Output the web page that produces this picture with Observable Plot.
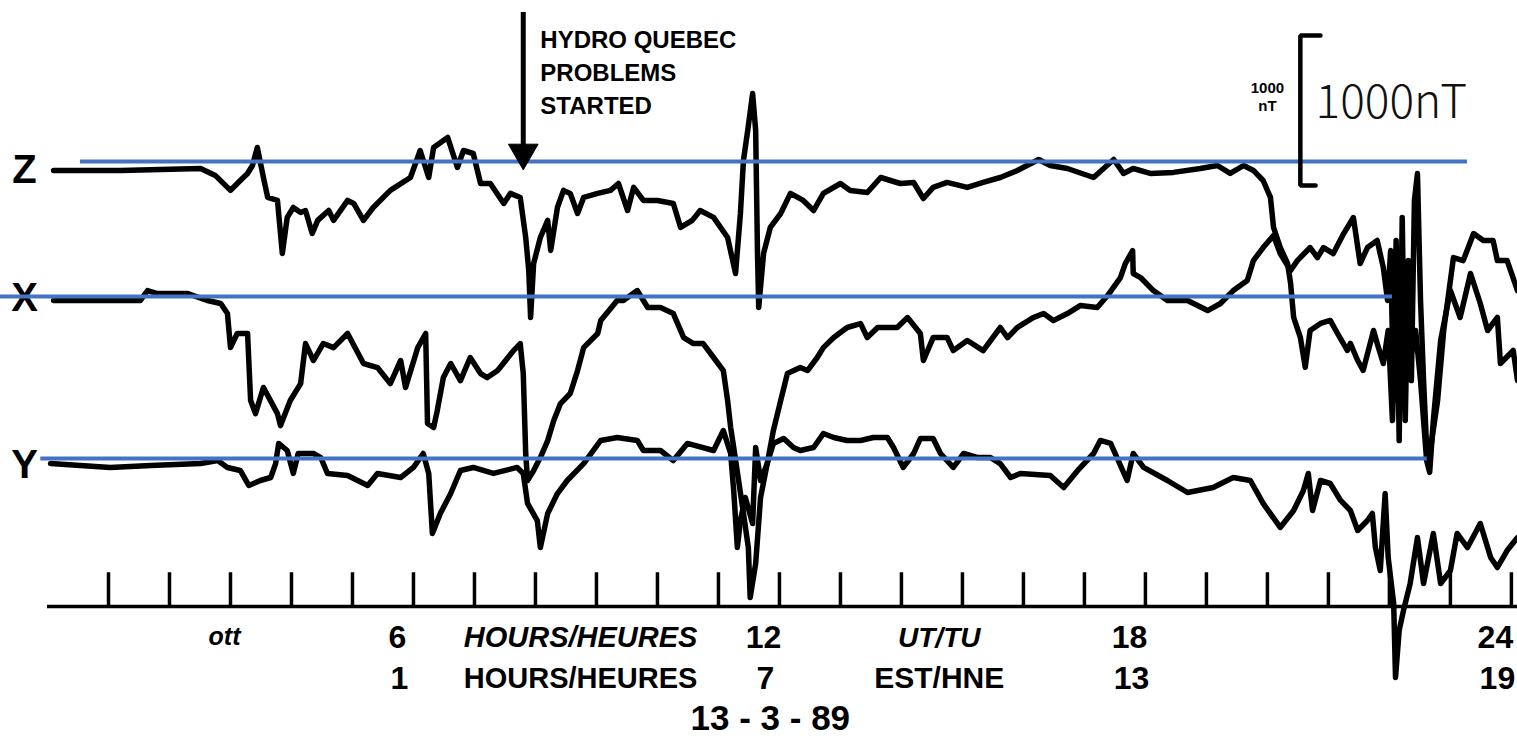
<!DOCTYPE html>
<html><head><meta charset="utf-8">
<script src="https://cdn.jsdelivr.net/npm/d3@7"></script>
<script src="https://cdn.jsdelivr.net/npm/@observablehq/plot@0.6"></script>
<style>html,body{margin:0;padding:0;background:#fff;overflow:hidden} svg{display:block}</style>
</head><body><div id="chart"></div>
<script>
// ---- Data (hours UT, deviations in nT) ----
const componentNames = ["Z", "X", "Y"];

const zHours = [0.10,1.20,2.51,2.75,3.00,3.16,3.28,3.36,3.44,3.54,3.61,3.77,3.85,3.93,4.03,4.15,4.23,4.34,4.43,4.61,4.69,4.92,5.02,5.18,5.34,5.62,5.95,6.11,6.25,6.33,6.56,6.72,6.82,6.98,7.10,7.26,7.48,7.59,7.75,7.84,7.89,7.92,7.97,8.08,8.20,8.25,8.36,8.46,8.57,8.69,8.79,9.02,9.23,9.36,9.51,9.61,9.77,10.00,10.26,10.38,10.57,10.70,10.92,11.15,11.28,11.36,11.41,11.48,11.56,11.61,11.64,11.66,11.74,11.85,12.02,12.18,12.39,12.56,12.72,13.00,13.16,13.44,13.66,13.98,14.20,14.36,14.52,14.75,15.08,15.34,15.62,15.90,16.25,16.44,16.72,17.15,17.48,17.64,17.80,18.08,18.46,18.90,19.18,19.39,19.61,19.77,19.93,20.05,20.10,20.21,20.33,20.38,20.43,20.54,20.62,20.70,20.87,21.03,21.15,21.31,21.36,21.48,21.57,21.74,21.80,21.90,21.98,22.05,22.11,22.18,22.26,22.34,22.43,22.51,22.61,22.66,22.72,22.84,23.00,23.16,23.33,23.49,23.61,23.77,23.82,24.03,24.10];
const zValues = [0,0,13,-33,-133,-67,-20,33,153,-47,-180,-200,-553,-313,-247,-280,-267,-420,-333,-267,-333,-200,-220,-333,-247,-133,-47,133,-47,153,220,20,133,113,-87,-87,-220,-153,-180,-447,-667,-980,-620,-447,-333,-533,-247,-133,-153,-287,-180,-153,-133,-87,-267,-113,-200,-200,-220,-380,-333,-267,-313,-447,-687,-287,67,267,513,267,-553,-913,-553,-380,-287,-153,-200,-267,-153,-87,-133,-147,-47,-87,-80,-187,-113,-80,-113,-80,-47,0,73,33,13,-47,73,-20,13,-20,-13,13,33,-20,33,0,-67,-180,-380,-513,-620,-753,-980,-1113,-1313,-1067,-1020,-1000,-1087,-1200,-1153,-1267,-1333,-1067,-1153,-1287,-1067,-1667,-867,-1400,-733,-1267,-1067,-1400,-1933,-2013,-1667,-1133,-800,-980,-687,-887,-1067,-980,-1287,-1200,-1400];

const xHours = [0.10,1.52,1.64,1.80,2.30,2.62,2.84,2.95,3.00,3.11,3.28,3.33,3.41,3.54,3.77,3.82,3.98,4.15,4.23,4.36,4.52,4.69,4.92,5.18,5.41,5.62,5.79,5.87,6.07,6.20,6.23,6.33,6.39,6.49,6.61,6.77,6.93,7.10,7.21,7.38,7.64,7.75,7.80,7.84,7.87,7.97,8.08,8.20,8.30,8.41,8.57,8.69,8.79,9.02,9.07,9.34,9.44,9.67,9.84,10.05,10.26,10.43,10.59,10.75,10.92,11.08,11.15,11.20,11.25,11.33,11.41,11.49,11.52,11.61,11.69,11.80,11.90,12.02,12.13,12.34,12.46,12.62,12.72,12.89,13.11,13.33,13.44,13.61,13.93,14.10,14.31,14.36,14.52,14.75,14.85,15.08,15.34,15.62,15.74,15.90,16.16,16.33,16.49,16.72,16.93,17.21,17.38,17.59,17.67,17.79,17.80,17.92,18.13,18.36,18.69,19.02,19.23,19.44,19.67,19.77,19.93,20.10,20.21,20.38,20.49,20.70,20.82,20.92,21.08,21.25,21.41,21.52,21.64,21.80,21.90,21.97,22.02,22.07,22.11,22.16,22.21,22.26,22.31,22.36,22.41,22.46,22.51,22.56,22.62,22.67,22.79,22.89,23.05,23.21,23.38,23.54,23.70,23.77,23.93,24.10];
const xValues = [-13,-13,53,33,33,-13,-33,-100,-327,-233,-233,-680,-767,-593,-767,-847,-680,-567,-300,-413,-300,-327,-233,-433,-460,-567,-413,-593,-327,-233,-833,-860,-747,-527,-433,-547,-393,-500,-527,-480,-347,-300,-500,-1033,-1213,-1147,-1060,-947,-813,-700,-633,-480,-327,-233,-147,-13,-13,53,-60,-60,-100,-260,-300,-300,-393,-480,-680,-860,-993,-1213,-1433,-1660,-1993,-1767,-1327,-1100,-880,-680,-500,-460,-480,-393,-327,-260,-193,-167,-260,-193,-193,-127,-233,-413,-260,-260,-347,-280,-347,-193,-260,-193,-127,-100,-147,-100,-47,-60,20,140,233,320,167,140,53,-13,-13,-80,-33,53,120,253,340,420,300,187,253,340,273,340,300,433,540,233,340,387,207,-13,320,-680,387,-947,540,-813,253,-547,653,833,-13,-547,-1080,-1013,-680,-213,273,253,433,387,387,253,253,53];

const yHours = [0.05,1.03,1.69,2.51,2.79,2.95,3.16,3.30,3.49,3.66,3.74,3.79,3.93,4.03,4.11,4.36,4.48,4.59,4.92,5.25,5.41,5.79,6.00,6.16,6.25,6.31,6.44,6.61,6.77,6.98,7.31,7.70,7.80,7.87,8.03,8.08,8.20,8.36,8.52,8.79,9.07,9.34,9.67,9.77,10.05,10.26,10.49,10.92,11.08,11.20,11.25,11.31,11.36,11.44,11.56,11.61,11.69,11.80,11.90,12.07,12.23,12.34,12.56,12.72,12.89,13.11,13.33,13.54,13.77,13.87,14.03,14.20,14.31,14.52,14.64,14.85,15.02,15.25,15.46,15.62,15.79,15.95,16.44,16.66,16.89,17.15,17.26,17.43,17.70,17.80,17.97,18.36,18.69,19.11,19.44,19.72,19.93,20.21,20.43,20.59,20.67,20.74,20.87,21.03,21.20,21.36,21.48,21.64,21.72,21.77,21.85,21.93,21.98,22.07,22.10,22.16,22.23,22.34,22.46,22.56,22.72,22.84,23.00,23.11,23.28,23.49,23.66,23.77,23.93,24.10];
const yValues = [13,-13,0,13,33,-13,-33,-133,-100,-80,13,147,100,-53,80,80,53,-53,-67,-133,-53,-80,-13,80,-53,-453,-320,-187,-33,-13,-53,-13,-53,-253,-367,-547,-320,-187,-100,13,167,187,167,100,100,33,147,100,233,80,-167,-547,-367,-213,-387,120,-100,13,147,180,120,100,120,213,187,167,167,187,187,120,-13,80,180,180,80,-13,80,53,53,13,-80,-53,-67,-147,-33,80,167,147,-100,80,-13,-100,-180,-147,-80,-100,-253,-413,-300,-167,-53,-300,-100,-120,-233,-300,-433,-367,-320,-547,-700,-187,-613,-920,-1413,-1100,-967,-787,-480,-787,-453,-787,-700,-453,-547,-387,-613,-680,-567,-480];

// hour ticks and labels
const hourTicks = d3.range(1, 25);
const utLabels = ["6", "12", "18", "24"];
const utLabelHours = [6, 12, 18, 24];
const estLabels = ["1", "7", "13", "19"];
const estLabelHours = [6, 12, 18, 24];

// reference (quiet-level) lines, nT relative to trace baseline, and their hour extents
const refNames = ["Z", "X", "Y"];
const refLevels = [60, 14, 47];
const refStart = [0.54, -0.77, -0.11];
const refEnd = [23.28, 22.05, 22.62];

const scaleBarNT = 1000;
const eventHour = 7.8;

// ---- Layout of the stacked traces (nT frame) ----
const base = {Z: 3787, X: 2933, Y: 1820};
const axisLevel = 880;

const series = {Z: [zHours, zValues], X: [xHours, xValues], Y: [yHours, yValues]};
const rows = [];
for (const c of componentNames) {
  const [hs, vs] = series[c];
  const n = Math.min(hs.length, vs.length);
  for (let i = 0; i < n; i++) rows.push({comp: c, hour: hs[i], value: base[c] + vs[i]});
}
const refs = refNames.map((c, i) => ({comp: c, y: base[c] + refLevels[i], x1: refStart[i], x2: refEnd[i]}));

const FONT = "Liberation Sans, Arial, sans-serif";
const barBottom = 3687, barTop = barBottom + scaleBarNT;
const bracket = [
  {h: 20.87, v: barTop}, {h: 20.54, v: barTop}, {h: 20.54, v: barBottom}, {h: 20.79, v: barBottom}
];

const chart = Plot.plot({
  width: 1517,
  height: 738,
  margin: 0,
  x: {domain: [0, 24.1], range: [47, 1517], axis: null},
  y: {domain: [0, 4920], range: [738, 0], axis: null},
  style: {background: "white", overflow: "visible"},
  marks: [
    // time axis
    Plot.ruleY([axisLevel], {x1: 0, x2: 24.1, stroke: "black", strokeWidth: 3.5}),
    Plot.ruleX(hourTicks, {x: d => d, y1: axisLevel, y2: axisLevel + 225, stroke: "black", strokeWidth: 3.5}),
    // traces
    Plot.line(rows, {x: "hour", y: "value", z: "comp", stroke: "black", strokeWidth: 5.5,
      strokeLinejoin: "round", strokeLinecap: "round", curve: "linear"}),
    // component labels
    Plot.text(componentNames, {x: 0, y: d => base[d], text: d => d, dx: -23, fontSize: 40,
      fontWeight: "bold", fontFamily: FONT, fill: "black"}),
    // blue reference lines
    Plot.ruleY(refs, {y: "y", x1: "x1", x2: "x2", stroke: "#4472C4", strokeWidth: 4}),
    // event arrow (shaft + solid head)
    Plot.ruleX([eventHour], {x: d => d, y1: 4840, y2: 3950, stroke: "black", strokeWidth: 5}),
    Plot.dot([eventHour], {x: d => d, y: 3905, symbol: "triangle", rotate: 180, r: 11,
      fill: "black", stroke: "black", strokeWidth: 1}),
    Plot.text(["HYDRO QUEBEC\nPROBLEMS\nSTARTED"], {x: eventHour + 0.28, y: 4755, text: d => d,
      textAnchor: "start", lineAnchor: "top", lineHeight: 1.36, fontSize: 24, fontWeight: 900,
      fontFamily: FONT, fill: "black"}),
    // scale bar
    Plot.line(bracket, {x: "h", y: "v", stroke: "black", strokeWidth: 4.5, strokeLinejoin: "miter"}),
    Plot.text(["1000\nnT"], {x: 20.0, y: 4280, text: d => d, fontSize: 15, fontWeight: 900,
      lineHeight: 1.2, fontFamily: FONT, fill: "black"}),
    Plot.text([`${scaleBarNT}nT`], {x: 20.79, y: 4233, text: d => d, textAnchor: "start",
      fontSize: 46, fontWeight: 300, fontFamily: "Noto Sans CJK JP, Noto Sans, sans-serif", fill: "#111"}),
    // tick labels, UT row
    Plot.text(utLabels, {x: (d, i) => utLabelHours[i], y: 673, text: d => d, dx: -16,
      fontSize: 32, fontWeight: "bold", fontFamily: FONT, fill: "black"}),
    // tick labels, EST row
    Plot.text(estLabels, {x: (d, i) => estLabelHours[i], y: 400, text: d => d, dx: -14,
      fontSize: 32, fontWeight: "bold", fontFamily: FONT, fill: "black"}),
    Plot.text(["ott"], {x: 3, y: 680, text: d => d, dx: -6, fontSize: 25, fontStyle: "italic",
      fontWeight: "bold", fontFamily: FONT, fill: "black"}),
    Plot.text(["HOURS/HEURES"], {x: 8.74, y: 673, text: d => d, fontSize: 29, fontStyle: "italic",
      fontWeight: "bold", fontFamily: FONT, fill: "black"}),
    Plot.text(["HOURS/HEURES"], {x: 8.74, y: 400, text: d => d, fontSize: 29,
      fontWeight: "bold", fontFamily: FONT, fill: "black"}),
    Plot.text(["UT/TU"], {x: 14.62, y: 673, text: d => d, fontSize: 28, fontStyle: "italic",
      fontWeight: "bold", fontFamily: FONT, fill: "black"}),
    Plot.text(["EST/HNE"], {x: 14.62, y: 400, text: d => d, fontSize: 30,
      fontWeight: "bold", fontFamily: FONT, fill: "black"}),
    Plot.text(["13 - 3 - 89"], {x: 11.85, y: 130, text: d => d, fontSize: 35,
      fontWeight: "bold", fontFamily: FONT, fill: "black"})
  ]
});
document.getElementById("chart").appendChild(chart);
</script>
</body></html>
